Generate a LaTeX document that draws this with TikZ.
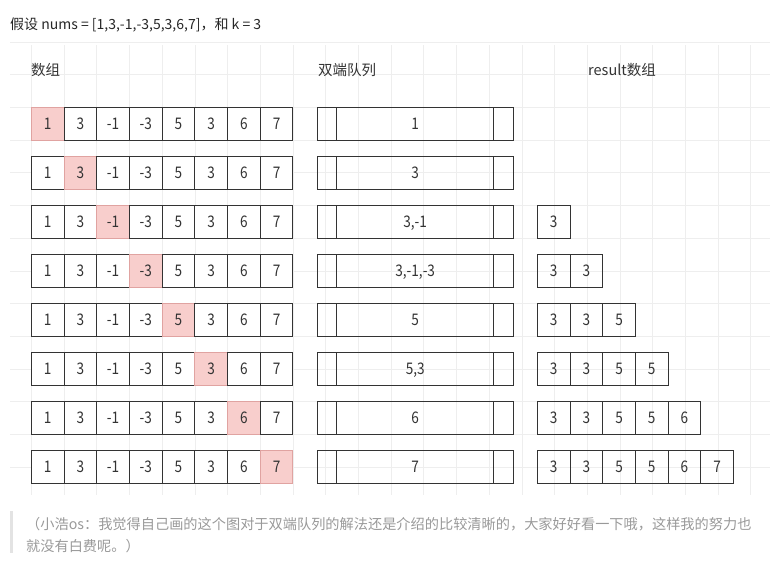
\documentclass[tikz,border=0pt]{standalone}
\usepackage{fontspec}
\setmainfont{Noto Sans CJK SC}
\newfontfamily\numfont[FakeStretch=0.85]{Noto Sans CJK SC}
\usetikzlibrary{positioning}
\definecolor{ink}{HTML}{333333}
\definecolor{hotfill}{HTML}{F8CECC}
\definecolor{hotline}{HTML}{E0A3A1}
\definecolor{gridline}{HTML}{EEEEEE}
\definecolor{notetext}{HTML}{999999}
\definecolor{notebar}{HTML}{E3E3E3}
\tikzset{
  numcell/.style={draw=ink,line width=0.9pt,inner sep=0pt,outer sep=0pt,
    minimum width=32.7pt,minimum height=32.7pt,text=ink,
    font=\numfont\fontsize{16}{16}\selectfont,text height=11.7pt,text depth=0pt},
  dqside/.style={numcell,minimum width=19.6pt},
  dqmid/.style={numcell,minimum width=156.6pt},
  caption/.style={anchor=base west,text=ink,inner sep=0pt,
    font=\fontsize{14.5}{14.5}\selectfont},
  note/.style={anchor=base west,text=notetext,inner sep=0pt,
    font=\fontsize{14.2}{14.2}\selectfont},
}

\begin{document}
\begin{tikzpicture}[x=1pt,y=-1pt]

\useasboundingbox (0,0) rectangle (781,564);
\foreach \k in {0,...,22}
  \draw[gridline,line width=0.6pt] ({31.3+32.7*\k},45) -- ({31.3+32.7*\k},495);
\foreach \k in {-1,...,12}
  \draw[gridline,line width=0.6pt] (10,{74.6+32.7*\k}) -- (770,{74.6+32.7*\k});

\node[caption,text=black!85,font=\fontsize{14}{14}\selectfont] (title) at (10,30) {假设 nums = [1,3,-1,-3,5,3,6,7]，和 k = 3};
\node[caption] (arr label) at (31,76) {数组};
\node[caption] (dq label) at (318,76) {双端队列};
\node[caption] (res label) at (588,76) {result数组};

\foreach \r/\q in {1/1,2/3,3/{3,-1},4/{3,-1,-3},5/5,6/{5,3},7/6,8/7} {
  \foreach \v [count=\c] in {1,3,-1,-3,5,3,6,7} {
    \ifnum\c=\r\relax \def\fc{hotfill}\def\dc{hotline}\else \def\fc{white}\def\dc{ink}\fi
    \node[numcell,fill=\fc,draw=\dc] (a\r-\c) at ({31.3+32.7*(\c-0.5)},{123.65+49*(\r-1)}) {\v};
  }
  \node[dqside,anchor=west] (q\r-l) at (317.3,{123.65+49*(\r-1)}) {};
  \node[dqmid,right=0pt of q\r-l] (q\r) {\q};
  \node[dqside,right=0pt of q\r] (q\r-r) {};
}

\foreach \r in {3,...,8} {
  \foreach \v [count=\c] in {3,3,5,5,6,7} {
    \ifnum\c<\numexpr\r-1\relax
      \node[numcell] (res\r-\c) at ({537.3+32.7*(\c-0.5)},{123.65+49*(\r-1)}) {\v};
    \fi
  }
}

\fill[notebar] (10,511) rectangle (13,553);
\node[note] (note1) at (26,529) {（小浩os：我觉得自己画的这个图对于双端队列的解法还是介绍的比较清晰的，大家好好看一下哦，这样我的努力也};
\node[note] (note2) at (26,551) {就没有白费呢。）};

\end{tikzpicture}
\end{document}
